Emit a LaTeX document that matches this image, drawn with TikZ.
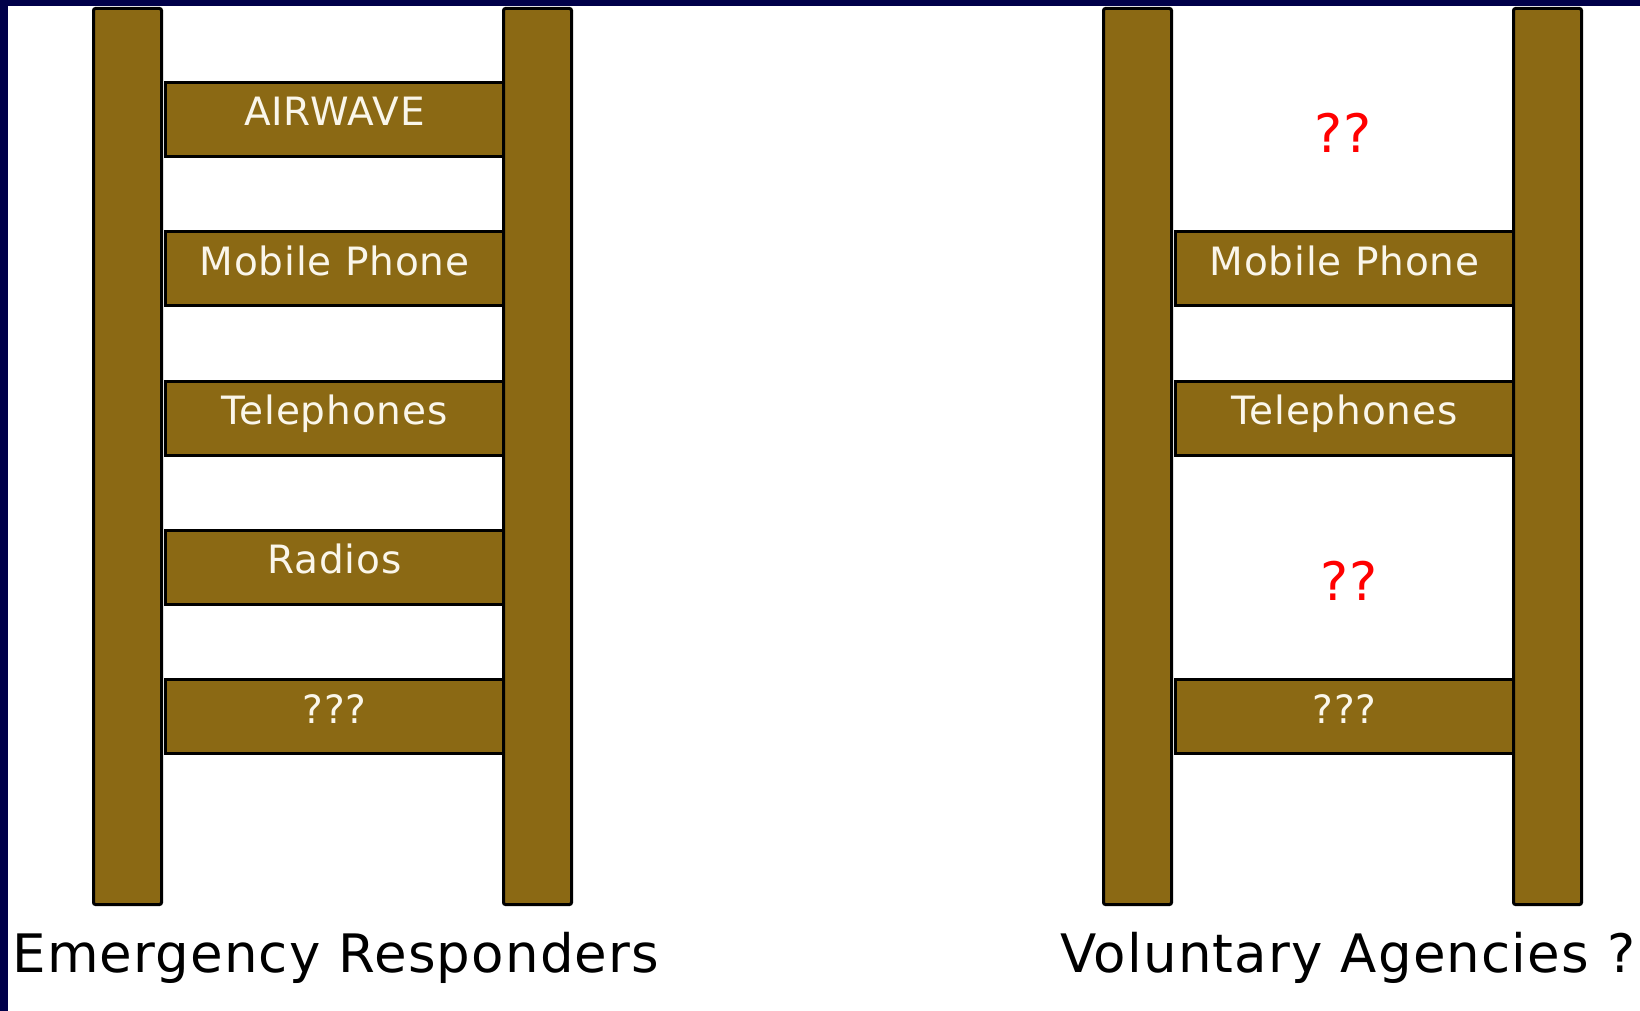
\documentclass[tikz,border=0pt]{standalone}
\usepackage{fontspec}
\setmainfont{DejaVu Sans}[LetterSpace=2.2]
\definecolor{ladder}{RGB}{139,105,20}
\definecolor{slidebg}{RGB}{0,0,74}
\definecolor{rungtext}{RGB}{250,246,234}

\begin{document}
\begin{tikzpicture}[x=0.5pt,y=-0.5pt]
  \tikzstyle{rail}=[rectangle,draw=black,fill=ladder,line width=1.5pt,rounded corners=1pt,minimum width=34pt,minimum height=448pt,inner sep=0pt]
  \tikzstyle{rung}=[rectangle,draw=black,fill=ladder,line width=1.5pt,minimum width=169pt,minimum height=37pt,inner sep=0pt,text=rungtext,font=\fontsize{19.5}{23}\selectfont,text height=11pt,text depth=4.5pt]
  \tikzstyle{query}=[text=red,inner sep=0pt,font=\fontsize{26.5}{30}\selectfont]
  \tikzstyle{title}=[inner sep=0pt,font=\fontsize{26.5}{30}\selectfont]

  \fill[slidebg] (0,0) rectangle (1640,1011);
  \fill[white] (8,6) rectangle (1640,1011);
  \useasboundingbox (0,0) rectangle (1640,1011);

  % left ladder
  \node[rail] (L-a) at (127.5,456.5){};
  \node[rail] (L-b) at (537.5,456.5){};
  \foreach \k/\txt in {0/AIRWAVE, 1/Mobile Phone, 2/Telephones, 3/Radios, 4/???}
    \node[rung] (L-\k) at (334.5,119.5+149.25*\k){\txt};

  % right ladder
  \node[rail] (R-a) at (1137.5,456.5){};
  \node[rail] (R-b) at (1547.5,456.5){};
  \foreach \k/\txt in {1/Mobile Phone, 2/Telephones, 4/???}
    \node[rung] (R-\k) at (1344.5,119.5+149.25*\k){\txt};
  \node[query] (Q-1) at (1343,133){??};
  \node[query] (Q-2) at (1349,581){??};

  \node[title,anchor=base west] (T-L) at (12,972){Emergency Responders};
  \node[title,anchor=base] (T-R) at (1348,972){Voluntary Agencies ?};
\end{tikzpicture}
\end{document}
